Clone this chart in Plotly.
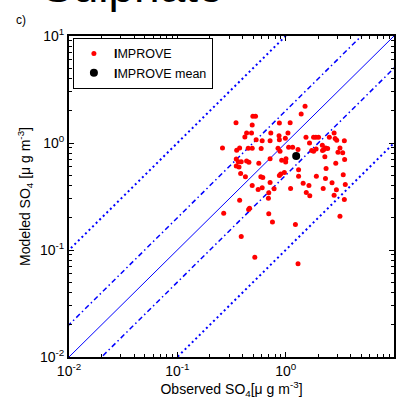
import plotly.graph_objects as go

# Observed vs modeled sulphate (ug m-3), IMPROVE sites
obs = [1.51, 1.39, 0.498, 0.527, 0.348, 0.491, 0.875, 1.10, 0.436, 0.484,
       0.729, 1.05, 0.420, 0.534, 0.607, 0.718, 0.869, 0.875, 0.993, 2.80,
       1.54, 1.81, 1.90, 2.01, 2.53, 2.86, 2.96, 3.48, 0.261, 0.353,
       0.376, 0.451, 0.491, 0.594, 0.850, 0.887, 1.065, 1.16, 1.30, 1.66,
       1.81, 1.91, 1.74, 2.18, 2.34, 2.25, 2.44, 3.17, 3.36, 3.04,
       2.19, 0.350, 0.365, 0.389, 0.436, 0.458, 0.565, 0.718, 0.919, 1.007,
       1.00, 2.30, 3.50, 2.90, 0.350, 0.371, 0.384, 0.425, 0.590, 0.615,
       0.875, 0.900, 0.972, 1.316, 1.316, 2.36, 1.92, 2.33, 3.40, 0.491,
       0.607, 0.557, 0.718, 0.782, 1.11, 1.45, 1.64, 2.22, 2.68, 2.94,
       3.55, 2.80, 3.48, 1.55, 1.67, 0.698, 0.376, 0.693, 0.464, 0.455,
       0.268, 0.698, 0.755, 1.23, 3.17, 0.389, 0.519, 1.30]
mod = [2.20, 1.87, 1.78, 1.78, 1.55, 1.47, 1.54, 1.55, 1.24, 1.24,
       1.24, 1.24, 1.135, 1.07, 1.05, 1.05, 1.17, 1.07, 1.11, 1.24,
       1.13, 1.13, 1.13, 1.13, 1.13, 1.10, 1.06, 1.05, 0.90, 0.856,
       0.90, 0.893, 0.893, 0.887, 0.893, 0.839, 0.913, 0.913, 0.869, 1.00,
       0.839, 0.881, 0.851, 0.952, 0.90, 0.869, 0.887, 0.90, 0.81, 0.821,
       0.851, 0.708, 0.669, 0.669, 0.679, 0.660, 0.646, 0.713, 0.689, 0.713,
       0.665, 0.744, 0.703, 0.646, 0.611, 0.598, 0.520, 0.484, 0.484, 0.477,
       0.498, 0.512, 0.531, 0.562, 0.488, 0.577, 0.488, 0.467, 0.505, 0.400,
       0.381, 0.368, 0.427, 0.373, 0.376, 0.421, 0.400, 0.376, 0.424, 0.365,
       0.409, 0.324, 0.296, 0.345, 0.322, 0.343, 0.292, 0.304, 0.245, 0.239,
       0.220, 0.218, 0.183, 0.173, 0.207, 0.134, 0.0856, 0.0744]
mean_obs = [1.25]
mean_mod = [0.755]

ratio_solid = [1]
ratio_dashdot = [2, 0.5]
ratio_dot = [10, 0.1]
line_x = [0.001, 100]

tick_vals = [0.01, 0.1, 1, 10]
tick_text = ["10<sup>-2</sup>", "10<sup>-1</sup>", "10<sup>0</sup>", "10<sup>1</sup>"]

FONT = "Liberation Sans, Arial, Helvetica, sans-serif"
BLUE = "#0000ff"

fig = go.Figure()

for r in ratio_solid:
    fig.add_trace(go.Scatter(x=line_x, y=[v * r for v in line_x], mode="lines",
                             line=dict(color=BLUE, width=1), showlegend=False,
                             hoverinfo="skip"))
for r in ratio_dashdot:
    fig.add_trace(go.Scatter(x=line_x, y=[v * r for v in line_x], mode="lines",
                             line=dict(color=BLUE, width=1.5,
                                       dash="5px,3px,1.5px,3px"),
                             showlegend=False, hoverinfo="skip"))
for r in ratio_dot:
    fig.add_trace(go.Scatter(x=line_x, y=[v * r for v in line_x], mode="lines",
                             line=dict(color=BLUE, width=2, dash="2px,3px"),
                             showlegend=False, hoverinfo="skip"))

fig.add_trace(go.Scatter(x=obs, y=mod, mode="markers", name="<b>I</b>MPROVE",
                         marker=dict(color="#ff0000", size=5, line=dict(width=0))))
fig.add_trace(go.Scatter(x=mean_obs, y=mean_mod, mode="markers",
                         name="<b>I</b>MPROVE mean",
                         marker=dict(color="black", size=8, line=dict(width=0))))

axis_common = dict(
    type="log", range=[-2, 1], tickmode="array", tickvals=tick_vals,
    ticktext=tick_text, ticks="inside", ticklen=5, tickwidth=1,
    tickcolor="black", showline=True, linecolor="black", linewidth=2,
    mirror="allticks", showgrid=False, zeroline=False,
    tickfont=dict(family=FONT, size=14, color="black"),
    minor=dict(ticks="inside", ticklen=3, tickcolor="black", dtick="D1",
               showgrid=False),
)

fig.update_layout(
    width=404, height=399,
    margin=dict(l=69, r=8, t=36, b=36),
    paper_bgcolor="white", plot_bgcolor="white",
    font=dict(family=FONT, size=13, color="black"),
    xaxis=dict(axis_common, title=dict(
        text="Observed SO<sub>4</sub>[\u03bc g m<sup>-3</sup>]",
        font=dict(family=FONT, size=14), standoff=2)),
    yaxis=dict(axis_common, title=dict(
        text="Modeled SO<sub>4</sub> [\u03bc g m<sup>-3</sup>]",
        font=dict(family=FONT, size=14), standoff=6)),
    legend=dict(x=0.012, y=0.994, xanchor="left", yanchor="top",
                bgcolor="white", bordercolor="black", borderwidth=1,
                font=dict(family=FONT, size=12.5), itemwidth=30,
                tracegroupgap=0),
    annotations=[
        dict(text="Sulphate", xref="paper", yref="paper", x=-0.09, y=1.067,
             xanchor="left", yanchor="bottom", showarrow=False,
             font=dict(family=FONT, size=46, color="black")),
        dict(text="c)", xref="paper", yref="paper", x=-0.17, y=1.049,
             xanchor="left", yanchor="middle", showarrow=False,
             font=dict(family=FONT, size=12, color="black")),
    ],
)

fig.write_html("out.html",
               config={"displayModeBar": False},
               post_script="document.body.style.margin='0';"
                           "document.body.style.overflow='hidden';")
